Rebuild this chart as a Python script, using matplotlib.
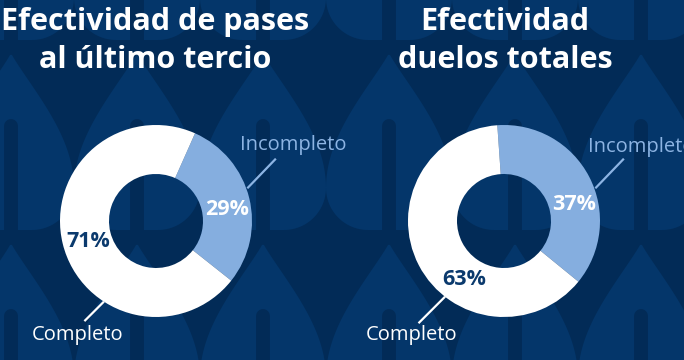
import numpy as np
import matplotlib.pyplot as plt

# datos de las dos gráficas
titulo_pases = ['Efectividad de pases', 'al último tercio']
titulo_duelos = ['Efectividad', 'duelos totales']
categorias = ['Incompleto', 'Completo']
pases = [29, 71]
duelos = [37, 63]
etiquetas_pases = ['29%', '71%']
etiquetas_duelos = ['37%', '63%']

W, H = 684, 360
fondo = '#022b57'
flama = '#04366a'
azul = '#85aedf'
azul_txt = '#8db4e3'
blanco = '#ffffff'
marino = '#0b3a6d'
fuente = 'Open Sans'

fig = plt.figure(figsize=(6.84, 3.6), dpi=100)
fig.patch.set_facecolor(fondo)
ax = fig.add_axes([0, 0, 1, 1])


def Y(y):
    # pasar de pixel (desde arriba) a coordenadas del eje
    return H - y


def gota(xc, y0):
    # contorno de una flama con punta hacia arriba
    t = np.linspace(0, 135, 60)
    w = 63 * np.sin(np.pi / 2 * t / 135) ** 1.1
    th = np.linspace(0, np.pi / 2, 25)
    tc = 135 + 42 * np.sin(th)
    wc = 21 + 42 * np.cos(th)
    ts = np.concatenate([t, tc])
    ws = np.concatenate([w, wc])
    xs = np.concatenate([xc + ws, (xc - ws)[::-1]])
    ys = np.concatenate([y0 + ts, (y0 + ts)[::-1]])
    return np.column_stack([xs, Y(ys)])


# patrón de fondo
for k in range(-1, 7):
    xc = 11 + 126 * k
    for j in range(-1, 2):
        y0 = 53 + 190 * j
        ax.add_patch(plt.Polygon(gota(xc, y0), closed=True, color=flama, lw=0, zorder=1))
        ax.plot([xc, xc], [Y(y0 + 73), Y(y0 + 185)], color=fondo, lw=10,
                solid_capstyle='round', zorder=2)


def dona(valores, centro, inicio):
    ax.pie(valores, colors=[azul, blanco], startangle=inicio, counterclock=False,
           radius=96, center=(centro[0], Y(centro[1])), frame=True,
           wedgeprops=dict(width=49, linewidth=0, zorder=3))


def punto(centro, ang, r):
    a = np.deg2rad(ang)
    return centro[0] + r * np.cos(a), Y(centro[1]) + r * np.sin(a)


c1 = (156, 221)
c2 = (504, 221)
dona(pases, c1, 66)
dona(duelos, c2, 94)

# títulos
for cx, lineas in [(155, titulo_pases), (505, titulo_duelos)]:
    for y, txt in zip([22, 60], lineas):
        ax.text(cx, Y(y), txt, ha='center', va='center', color=blanco,
                fontsize=22, fontweight='bold', family=fuente, zorder=5)

# porcentajes sobre los anillos
for c, etq, angs in [(c1, etiquetas_pases, (9, 197)), (c2, etiquetas_duelos, (13, 236))]:
    x, y = punto(c, angs[0], 72)
    ax.text(x, y, etq[0], ha='center', va='center', color=blanco,
            fontsize=15.5, fontweight='bold', family=fuente, zorder=5)
    x, y = punto(c, angs[1], 71)
    ax.text(x, y, etq[1], ha='center', va='center', color=marino,
            fontsize=15.5, fontweight='bold', family=fuente, zorder=5)

# etiquetas con línea guía
guias = [(c1, 237, 18, (240, 145), (32, 335)),
         (c2, 232, 25, (588, 147), (366, 335))]
for c, ang_c, largo, pos_inc, pos_com in guias:
    x0, y0 = punto(c, 20, 98)
    ax.plot([x0, x0 + 27], [y0, y0 + 28], color=azul_txt, lw=1.6, zorder=5)
    ax.text(pos_inc[0], Y(pos_inc[1]), categorias[0], ha='left', va='center',
            color=azul_txt, fontsize=14.5, fontweight='medium', family=fuente, zorder=5)
    x0, y0 = punto(c, ang_c, 97)
    ax.plot([x0, x0 - largo], [y0, y0 - largo], color=blanco, lw=1.6, zorder=5)
    ax.text(pos_com[0], Y(pos_com[1]), categorias[1], ha='left', va='center',
            color=blanco, fontsize=14.5, fontweight='medium', family=fuente, zorder=5)

ax.set_xlim(0, W)
ax.set_ylim(0, H)
ax.set_aspect('equal')
ax.axis('off')

fig.savefig('out.png', dpi=100, facecolor=fig.get_facecolor())
